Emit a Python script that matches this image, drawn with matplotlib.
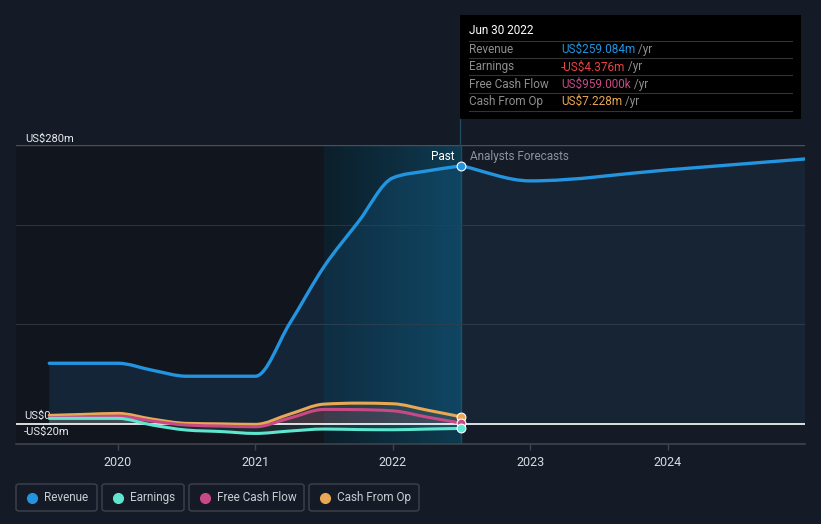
import matplotlib.pyplot as plt
import numpy as np
from matplotlib.patches import Rectangle, FancyBboxPatch, PathPatch
from matplotlib.colors import LinearSegmentedColormap
from matplotlib.lines import Line2D
from matplotlib.path import Path
from matplotlib.text import Annotation

plt.rcParams['font.family'] = ['Roboto', 'DejaVu Sans']

# quarterly history, mid-2019 .. mid-2022 (decimal years)
past_x = [2019.5, 2019.75, 2020.0, 2020.25, 2020.5, 2020.75, 2021.0,
          2021.25, 2021.5, 2021.75, 2022.0, 2022.25, 2022.5]
revenue = [61, 61, 61, 54, 48, 48, 48, 101, 158, 203, 247, 254, 259.084]
earnings = [5.7, 5.7, 5.7, -1, -6, -7.5, -9.4, -7, -5, -5.5, -5.7, -5, -4.376]
fcf = [6.3, 7.2, 8, 3, -1, -2, -2.7, 6, 14.7, 14.5, 13.3, 7, 0.959]
cfo = [8.7, 9.7, 10.7, 5, 0.7, 0.2, -0.3, 10, 20, 21, 20.4, 14, 7.228]

# analyst forecast for revenue
fc_x = [2022.5, 2023.0, 2024.0, 2025.0]
fc_revenue = [259.084, 244, 255, 266]

tick_years = [2020, 2021, 2022, 2023, 2024]

tooltip_rows = [("Revenue", "US$259.084m", '#2394df'),
                ("Earnings", "-US$4.376m", '#e84343'),
                ("Free Cash Flow", "US$959.000k", '#c94987'),
                ("Cash From Op", "US$7.228m", '#e8a855')]
legend_items = [("Revenue", '#2394df'), ("Earnings", '#5ee6d0'),
                ("Free Cash Flow", '#c94987'), ("Cash From Op", '#e8a855')]

BG = '#151b26'
W, H = 821, 524


def monotone_path(xs, ys, close_to=None):
    # bezier path through the points, same idea as d3 curveMonotoneX
    xs = np.asarray(xs, float)
    ys = np.asarray(ys, float)
    n = len(xs)
    h = np.diff(xs)
    d = np.diff(ys) / h
    m = np.zeros(n)
    m[0], m[-1] = d[0], d[-1]
    for i in range(1, n - 1):
        if d[i - 1] * d[i] <= 0:
            m[i] = 0
        else:
            m[i] = (np.sign(d[i - 1]) * min(abs(d[i - 1]), abs(d[i]),
                    0.5 * abs((h[i - 1] * d[i] + h[i] * d[i - 1]) / (h[i - 1] + h[i]))) * 2)
    verts = [(xs[0], ys[0])]
    codes = [Path.MOVETO]
    for i in range(n - 1):
        verts += [(xs[i] + h[i] / 3, ys[i] + m[i] * h[i] / 3),
                  (xs[i + 1] - h[i] / 3, ys[i + 1] - m[i + 1] * h[i] / 3),
                  (xs[i + 1], ys[i + 1])]
        codes += [Path.CURVE4] * 3
    if close_to is not None:
        verts += [(xs[-1], close_to), (xs[0], close_to), (xs[0], ys[0])]
        codes += [Path.LINETO, Path.LINETO, Path.CLOSEPOLY]
    return Path(verts, codes)


def curve(ax, xs, ys, color, lw, fill_alpha, z):
    ax.add_patch(PathPatch(monotone_path(xs, ys, 0), facecolor=color, alpha=fill_alpha,
                           lw=0, zorder=z - 2))
    ax.add_patch(PathPatch(monotone_path(xs, ys), facecolor='none', edgecolor=color,
                           lw=lw, zorder=z, capstyle='round'))


fig = plt.figure(figsize=(W / 100, H / 100), dpi=100, facecolor=BG)
ax = fig.add_axes([16 / W, (H - 444) / H, (805 - 16) / W, (444 - 145) / H])
ax.set_facecolor(BG)
x0, x1 = 2019.258, 2025.0
ax.set_xlim(x0, x1)
ax.set_ylim(-20, 280)

# background regions
ax.axvspan(x0, 2021.5, color='#11151d', zorder=0, lw=0)
grad = np.linspace(0, 1, 256).reshape(1, -1)
cmap = LinearSegmentedColormap.from_list('hl', ['#0c1f2b', '#0e3b51'])
ax.imshow(grad, extent=[2021.5, 2022.5, -20, 280], aspect='auto', cmap=cmap,
          zorder=0.5, interpolation='bicubic')
ax.axvline(2022.5, color='#1b4a5e', lw=1, zorder=1)

# gridlines
for g in [100, 200]:
    ax.axhline(g, color='#2c323d', lw=0.8, zorder=1)
ax.axhline(280, color='#4a4f58', lw=1, zorder=1)
ax.axhline(0, color='white', lw=1.2, zorder=4)

# revenue
curve(ax, past_x, revenue, '#2394df', 2.4, 0.13, 5)
curve(ax, fc_x, fc_revenue, '#2394df', 2.4, 0.08, 5)

# small series
for ys, col in [(cfo, '#e8a855'), (fcf, '#c94987'), (earnings, '#5ee6d0')]:
    curve(ax, past_x, ys, col, 2.2, 0.12, 5)
    ax.scatter([past_x[-1]], [ys[-1]], s=40, color=col, edgecolor='white',
               linewidth=0.8, zorder=6)
ax.scatter([past_x[-1]], [revenue[-1]], s=40, color='#2394df', edgecolor='white',
           linewidth=0.8, zorder=6)

# axes styling
for s in ['top', 'right', 'left']:
    ax.spines[s].set_visible(False)
ax.spines['bottom'].set_color('#3e434c')
ax.spines['bottom'].set_linewidth(1.2)
ax.set_yticks([])
ax.set_xticks(tick_years)
ax.set_xticklabels([str(y) for y in tick_years])
ax.tick_params(axis='x', colors='#3e434c', labelcolor='#d8dbe0', labelsize=9,
               length=4, width=1, pad=5)

# y labels
ax.text(9 / 789, 281, "US$280m", transform=ax.get_yaxis_transform(),
        color='#e8eaed', fontsize=8, va='bottom', ha='left')
ax.text(8 / 789, 3, "US$0", transform=ax.get_yaxis_transform(),
        color='#e8eaed', fontsize=8, va='bottom', ha='left')
ax.text(8 / 789, -8, "-US$20m", transform=ax.get_yaxis_transform(),
        color='#e8eaed', fontsize=8, va='center', ha='left')

ax.text(2022.5 - 0.05, 268, "Past", color='white', fontsize=8.5, ha='right', va='center')
ax.text(2022.5 + 0.06, 268, "Analysts Forecasts", color='#8d929b', fontsize=8.5,
        ha='left', va='center')

# tooltip
fig.add_artist(Line2D([460 / W, 460 / W], [1 - 119 / H, 1 - 145 / H],
                      color='#1b4a5e', lw=1))
fig.add_artist(Rectangle((460 / W, 1 - 119 / H), 341 / W, 104 / H,
                         facecolor='black', edgecolor='none'))
fig.text(469 / W, 1 - 31 / H, "Jun 30 2022", color='white', fontsize=8.5,
         va='center', ha='left')
for yy in [41, 58, 75, 93, 111]:
    fig.add_artist(Line2D([469 / W, 792 / W], [1 - yy / H, 1 - yy / H],
                          color='#333333', lw=0.8))
for i, (lab, val, col) in enumerate(tooltip_rows):
    yy = 1 - (49.5 + i * 17.4) / H
    fig.text(469 / W, yy, lab, color='#8e8e8e', fontsize=8.5, va='center')
    t = fig.text(561 / W, yy, val, color=col, fontsize=8.5, va='center')
    a = Annotation(" /yr", xy=(1, 0.5), xycoords=t, va='center', ha='left',
                   color='#8e8e8e', fontsize=8.5)
    a.set_zorder(5)
    fig.add_artist(a)

# legend boxes
for (lab, col), (bx0, bx1) in zip(legend_items, [(16, 97), (102, 184), (189, 304), (309, 419)]):
    fig.add_artist(FancyBboxPatch((bx0 / W, 1 - 511 / H), (bx1 - bx0) / W, 27 / H,
                                  boxstyle="round,pad=0,rounding_size=0.004",
                                  facecolor='none', edgecolor='#3e434c', lw=1))
    fig.add_artist(Line2D([(bx0 + 16) / W], [1 - 497.5 / H], marker='o',
                          markersize=7, color=col, lw=0))
    fig.text((bx0 + 28) / W, 1 - 497.5 / H, lab, color='#c9ccd1', fontsize=8.5,
             va='center', ha='left')

fig.savefig('out.png', dpi=100, facecolor=BG)
